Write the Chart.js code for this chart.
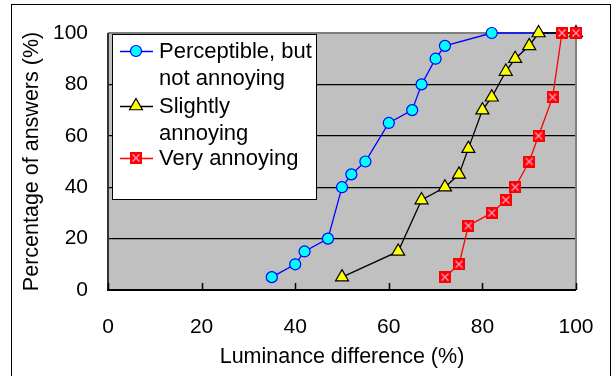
<!DOCTYPE html>
<html>
<head>
<meta charset="utf-8">
<script src="https://cdn.jsdelivr.net/npm/chart.js@4"></script>
<style>
html,body{margin:0;padding:0;background:#fff;}
#wrap{width:613px;height:376px;position:relative;}
</style>
</head>
<body>
<div id="wrap"><canvas id="c" width="613" height="376"></canvas></div>
<script>
// ---- data ----
const seriesNames = [["Perceptible, but", "not annoying"], ["Slightly", "annoying"], ["Very annoying"]];
const blueX  = [35, 40, 42, 47, 50, 52, 55, 60, 65, 67, 70, 72, 82, 100];
const blueY  = [5, 10, 15, 20, 40, 45, 50, 65, 70, 80, 90, 95, 100, 100];
const blackX = [50, 62, 67, 72, 75, 77, 80, 82, 85, 87, 90, 92, 100];
const blackY = [5, 15, 35, 40, 45, 55, 70, 75, 85, 90, 95, 100, 100];
const redX   = [72, 75, 77, 82, 85, 87, 90, 92, 95, 97, 100];
const redY   = [5, 10, 25, 30, 35, 40, 50, 60, 75, 100, 100];
const xTicks = [0, 20, 40, 60, 80, 100];
const yTicks = [0, 20, 40, 60, 80, 100];
const xTitle = "Luminance difference (%)";
const yTitle = "Percentage of answers (%)";

const FONT = "'Liberation Sans', Arial, sans-serif";

function pts(xs, ys) { return xs.map((x, i) => ({x: x, y: ys[i]})); }

// red square with pink cross marker
function makeRedMarker() {
  const c = document.createElement('canvas');
  c.width = 12; c.height = 12;
  const g = c.getContext('2d');
  g.fillStyle = '#FF0000';
  g.fillRect(0, 0, 12, 12);
  g.strokeStyle = '#FF9CC8';
  g.lineWidth = 1.3;
  g.beginPath();
  g.moveTo(2.5, 2.5); g.lineTo(9.5, 9.5);
  g.moveTo(9.5, 2.5); g.lineTo(2.5, 9.5);
  g.stroke();
  return c;
}
const redMarker = makeRedMarker();

const bgPlugin = {
  id: 'bg',
  beforeDraw(chart) {
    const ctx = chart.ctx, a = chart.chartArea;
    ctx.save();
    ctx.fillStyle = '#fff';
    ctx.fillRect(0, 0, chart.width, chart.height);
    // outer chart border
    ctx.strokeStyle = '#000';
    ctx.lineWidth = 1;
    ctx.strokeRect(11.5, 4.5, 599, 400);
    // plot area
    ctx.fillStyle = '#C0C0C0';
    ctx.fillRect(a.left, a.top, a.right - a.left, a.bottom - a.top);
    ctx.restore();
  },
  beforeDatasetsDraw(chart) {
    const ctx = chart.ctx, a = chart.chartArea;
    const xs = chart.scales.x;
    ctx.save();
    ctx.strokeStyle = '#808080';
    ctx.lineWidth = 2;
    ctx.beginPath();
    ctx.moveTo(a.left, a.top); ctx.lineTo(a.right, a.top); ctx.lineTo(a.right, a.bottom);
    ctx.stroke();
    ctx.strokeStyle = '#333';
    ctx.lineWidth = 2;
    ctx.beginPath();
    ctx.moveTo(a.left, a.top); ctx.lineTo(a.left, a.bottom + 1);
    ctx.stroke();
    ctx.strokeStyle = '#000';
    ctx.beginPath();
    ctx.moveTo(a.left - 1, a.bottom); ctx.lineTo(a.right, a.bottom);
    ctx.stroke();
    // inner tick marks on the x axis
    ctx.lineWidth = 1.5;
    ctx.beginPath();
    xTicks.forEach(v => {
      const px = Math.round(xs.getPixelForValue(v)) + 0.5;
      ctx.moveTo(px, a.bottom); ctx.lineTo(px, a.bottom - 7);
    });
    ctx.stroke();
    ctx.restore();
  },
  afterDatasetsDraw(chart) {
    const ctx = chart.ctx;
    ctx.save();
    ctx.fillStyle = '#fff';
    ctx.fillRect(112, 34, 204, 165);
    ctx.strokeStyle = '#000';
    ctx.lineWidth = 1;
    ctx.strokeRect(112.5, 34.5, 204, 165);
    const rows = [51, 106, 158];
    chart.data.datasets.forEach((ds) => {
      const idx = ds.legendIndex;
      const y = rows[idx];
      ctx.strokeStyle = ds.borderColor;
      ctx.lineWidth = 1.3;
      ctx.beginPath();
      ctx.moveTo(120, y + 0.5); ctx.lineTo(153, y + 0.5);
      ctx.stroke();
      ctx.fillStyle = ds.pointBackgroundColor;
      ctx.strokeStyle = ds.pointBorderColor;
      ctx.lineWidth = ds.pointBorderWidth;
      Chart.helpers.drawPoint(ctx, {
        pointStyle: ds.pointStyle, radius: ds.pointRadius, rotation: 0,
        borderWidth: ds.pointBorderWidth
      }, 136, y);
      ctx.fillStyle = '#000';
      ctx.font = '22px ' + FONT;
      ctx.textBaseline = 'middle';
      ctx.textAlign = 'left';
      seriesNames[idx].forEach((t, j) => ctx.fillText(t, 159, y + 1 + j * 27));
    });
    ctx.restore();
  }
};

new Chart(document.getElementById('c'), {
  type: 'line',
  data: {
    datasets: [
      {
        legendIndex: 0, order: 3,
        data: pts(blueX, blueY),
        borderColor: '#0000FF', borderWidth: 1.3,
        pointStyle: 'circle', pointRadius: 5.5,
        pointBackgroundColor: '#00FFFF', pointBorderColor: '#0000FF', pointBorderWidth: 1.2,
        clip: false, tension: 0
      },
      {
        legendIndex: 1, order: 2,
        data: pts(blackX, blackY),
        borderColor: '#000000', borderWidth: 1.3,
        pointStyle: 'triangle', pointRadius: 7.5,
        pointBackgroundColor: '#FFFF00', pointBorderColor: '#000000', pointBorderWidth: 1.2,
        clip: false, tension: 0
      },
      {
        legendIndex: 2, order: 1,
        data: pts(redX, redY),
        borderColor: '#FF0000', borderWidth: 1.3,
        pointStyle: redMarker, pointRadius: 6,
        pointBackgroundColor: '#FF0000', pointBorderColor: '#FF0000', pointBorderWidth: 0,
        clip: false, tension: 0
      }
    ]
  },
  options: {
    responsive: false,
    animation: false,
    events: [],
    layout: { padding: { top: 33, right: 37, left: 0, bottom: 0 } },
    plugins: { legend: { display: false }, tooltip: { enabled: false } },
    scales: {
      x: {
        type: 'linear', min: 0, max: 100,
        afterFit(s) { s.height = 86; s.paddingRight = 0; s.paddingLeft = 0; },
        afterBuildTicks(s) { s.ticks = xTicks.map(v => ({value: v})); },
        grid: { display: false, drawTicks: false },
        border: { display: false },
        ticks: { color: '#000', font: { family: FONT, size: 21 }, padding: 25, maxRotation: 0 },
        title: { display: true, text: xTitle, color: '#000', font: { family: FONT, size: 21.5 }, padding: { top: 0, bottom: 6 } }
      },
      y: {
        type: 'linear', min: 0, max: 100,
        afterFit(s) { s.width = 108; s.paddingTop = 0; s.paddingBottom = 0; },
        afterBuildTicks(s) { s.ticks = yTicks.map(v => ({value: v})); },
        grid: {
          drawTicks: false,
          color: ctx => (ctx.tick && (ctx.tick.value === 0 || ctx.tick.value === 100)) ? 'rgba(0,0,0,0)' : '#000',
          lineWidth: 1.3
        },
        border: { display: false },
        ticks: { color: '#000', font: { family: FONT, size: 21 }, padding: 20 },
        title: { display: true, text: yTitle, color: '#000', font: { family: FONT, size: 21.5 }, padding: { top: 19, bottom: 0 } }
      }
    }
  },
  plugins: [bgPlugin]
});
</script>
</body>
</html>
